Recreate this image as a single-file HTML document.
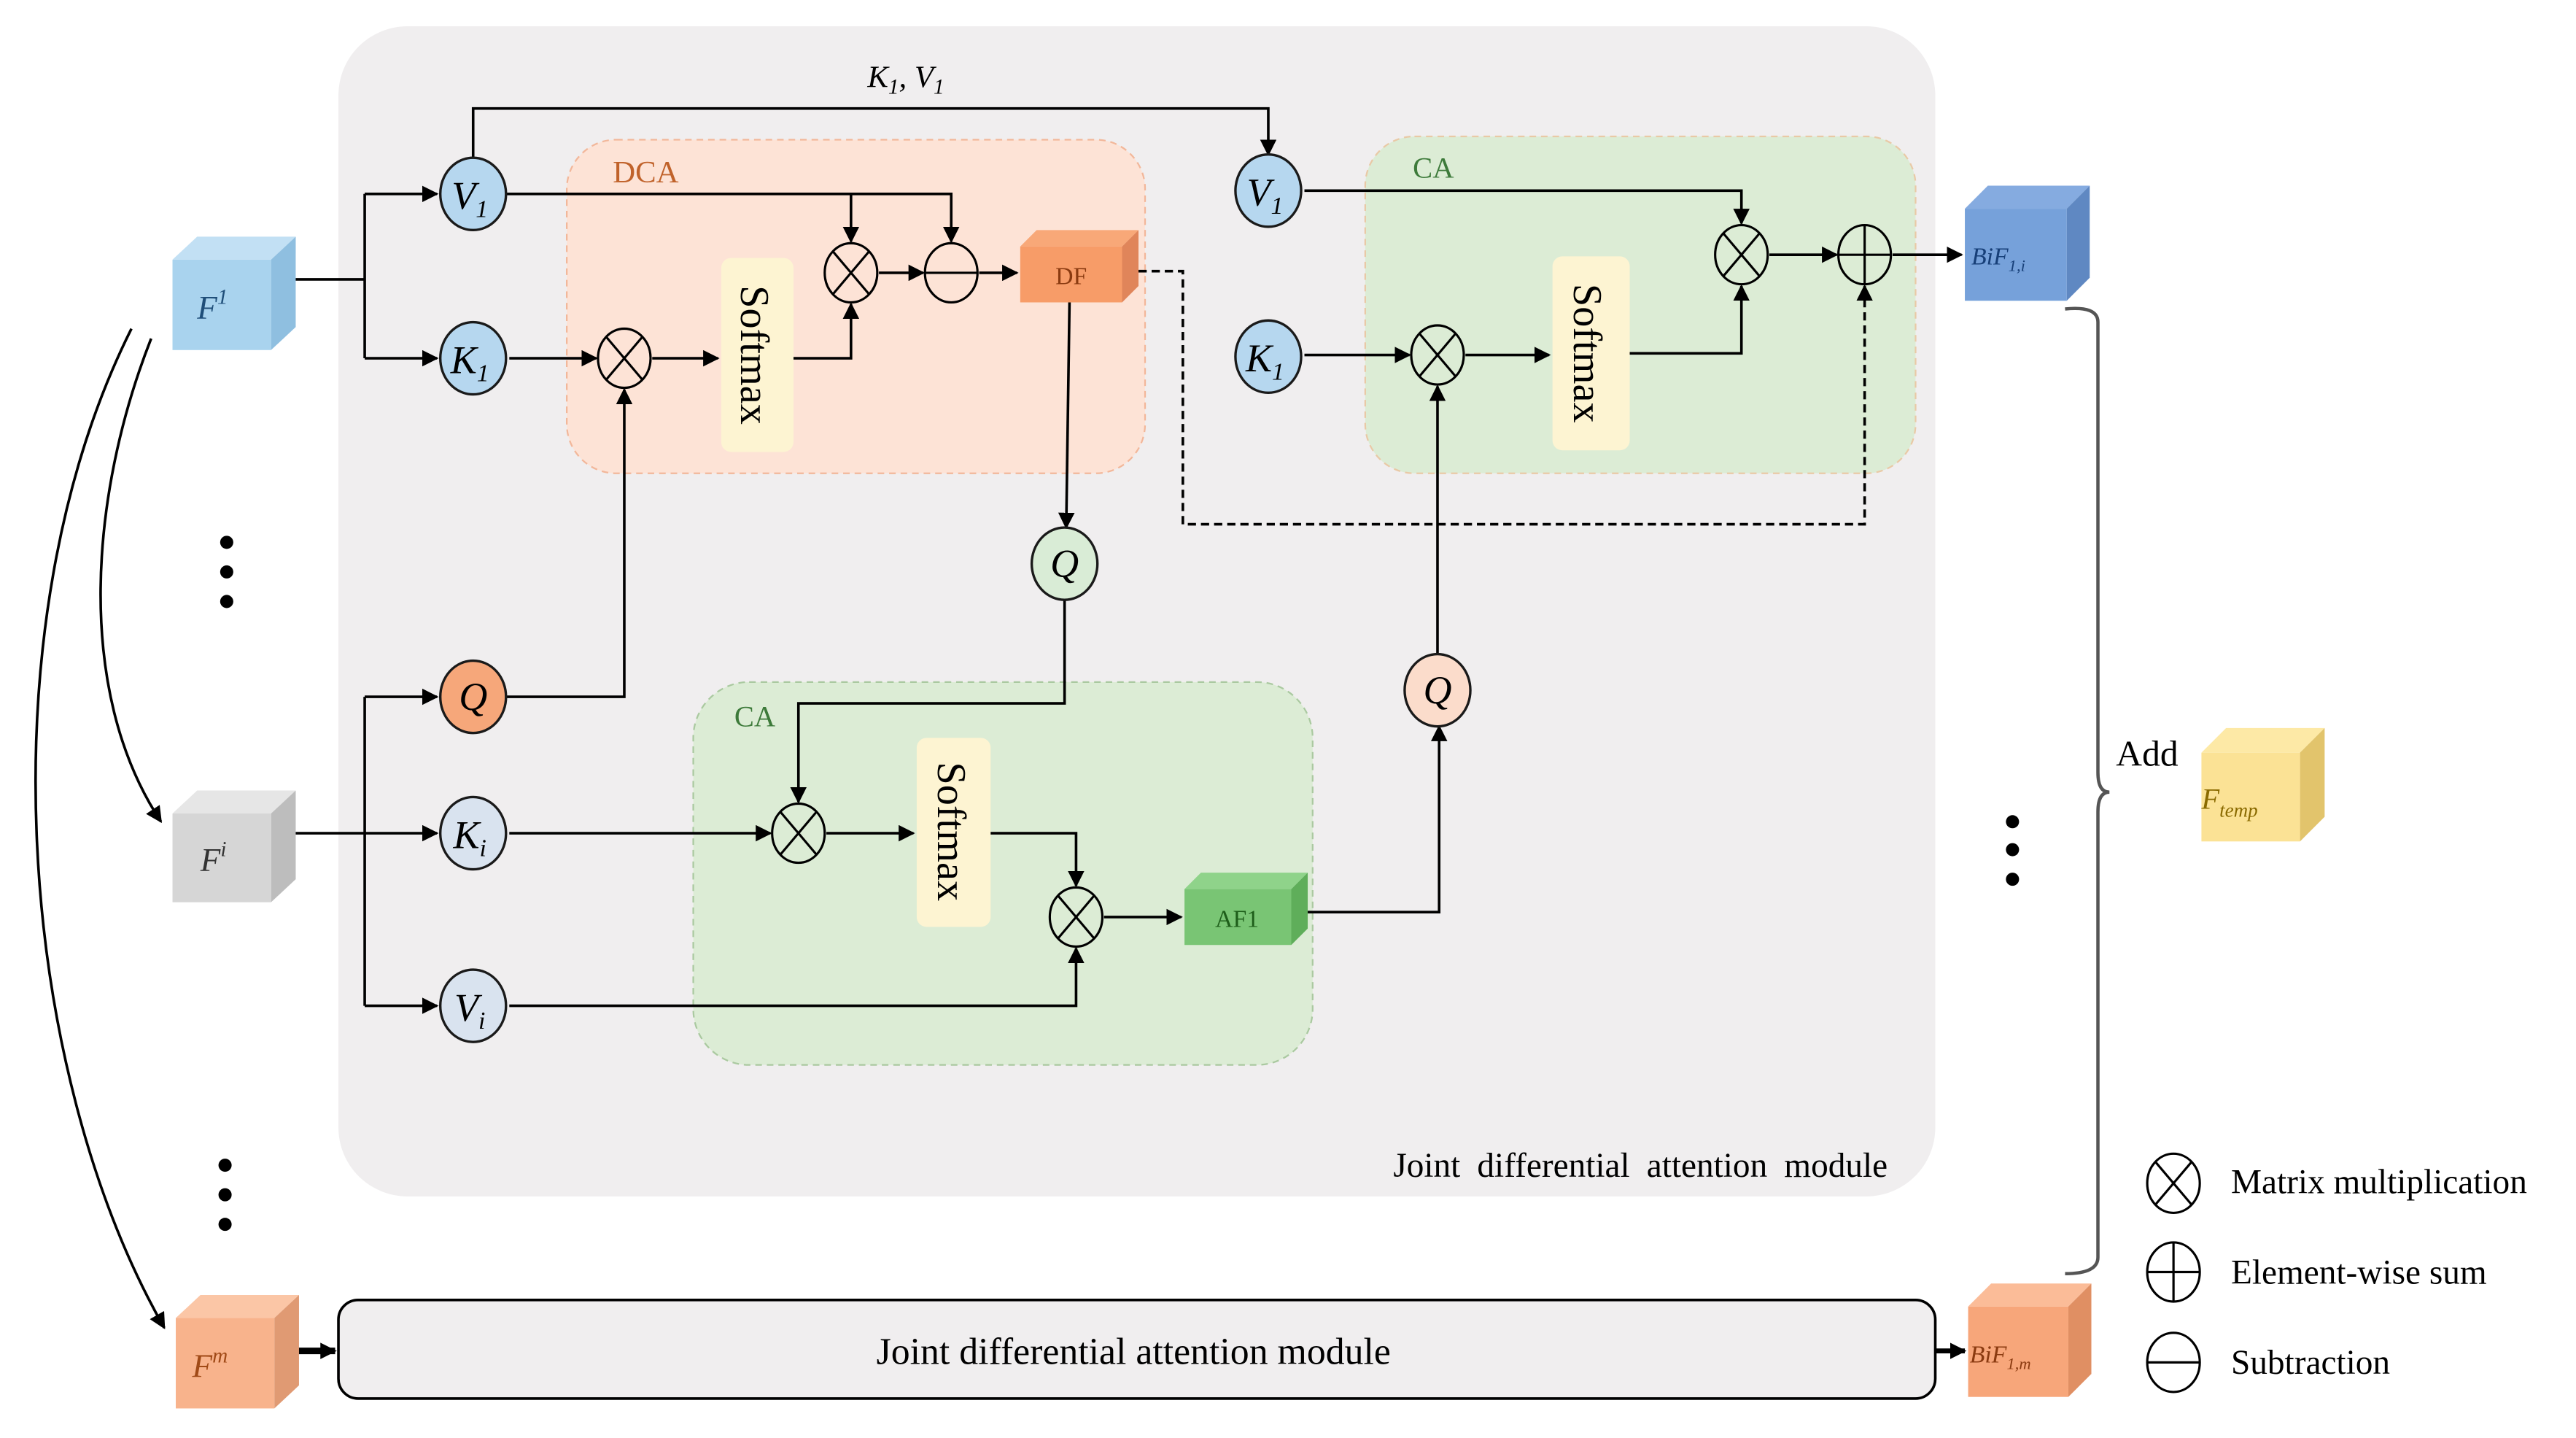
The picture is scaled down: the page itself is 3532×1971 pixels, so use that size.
<!DOCTYPE html>
<html><head><meta charset="utf-8"><style>html,body{margin:0;padding:0;background:#fff}svg{display:block}</style></head>
<body>
<svg width="3532" height="1971" viewBox="0 0 1568 875" preserveAspectRatio="none" xmlns="http://www.w3.org/2000/svg" font-family="'Liberation Serif', serif">
<defs>
<marker id="a" markerWidth="10" markerHeight="10" refX="9" refY="5" orient="auto" markerUnits="userSpaceOnUse"><path d="M0,0 L10,5 L0,10 z" fill="#000"/></marker>
<g id="mx"><ellipse cx="0" cy="0" rx="16" ry="18"/><path d="M-11,-13 L11,13 M11,-13 L-11,13"/></g>
</defs>
<rect width="1568" height="875" fill="#fff"/>
<rect x="206" y="16" width="972" height="712" rx="42" fill="#f0eeef"/>
<rect x="345" y="85" width="352" height="203" rx="30" fill="#fde3d6" stroke="#f2b79a" stroke-dasharray="4,3"/>
<text x="373" y="111" font-size="19" fill="#c0622a">DCA</text>
<rect x="831" y="83" width="335" height="205" rx="30" fill="#dcecd5" stroke="#e9c9a6" stroke-dasharray="4,3"/>
<text x="860" y="108" font-size="18" fill="#3d7a3a">CA</text>
<rect x="422" y="415" width="377" height="233" rx="34" fill="#dcecd5" stroke="#aac9a0" stroke-dasharray="4,3"/>
<text x="447" y="442" font-size="18" fill="#3d7a3a">CA</text>
<g fill="#fdf4d2"><rect x="439" y="157" width="44" height="118" rx="6"/><rect x="945" y="156" width="47" height="118" rx="6"/><rect x="558" y="449" width="45" height="115" rx="6"/></g>
<g font-size="25" fill="#000">
<text transform="translate(451,216) rotate(90)" text-anchor="middle">Softmax</text>
<text transform="translate(958,215) rotate(90)" text-anchor="middle">Softmax</text>
<text transform="translate(571,506) rotate(90)" text-anchor="middle">Softmax</text>
</g>
<g>
<polygon points="105,158 120,144 180,144 165,158" fill="#c2e0f4"/><polygon points="165,158 180,144 180,199 165,213" fill="#8fbfe0"/><rect x="105" y="158" width="60" height="55" fill="#a9d3ee"/>
<text x="120" y="194" font-size="20" font-style="italic" fill="#1f4e79">F<tspan font-size="13" dy="-9">1</tspan></text>
<polygon points="105,495 120,481 180,481 165,495" fill="#e6e6e6"/><polygon points="165,495 180,481 180,535 165,549" fill="#bdbdbd"/><rect x="105" y="495" width="60" height="54" fill="#d6d6d6"/>
<text x="122" y="530" font-size="20" font-style="italic" fill="#333">F<tspan font-size="13" dy="-9">i</tspan></text>
<polygon points="107,802 122,788 182,788 167,802" fill="#fbc6a6"/><polygon points="167,802 182,788 182,843 167,857" fill="#e09a73"/><rect x="107" y="802" width="60" height="55" fill="#f8b38c"/>
<text x="117" y="838" font-size="20" font-style="italic" fill="#a04a17">F<tspan font-size="13" dy="-9">m</tspan></text>
<polygon points="1196,127 1210,113 1272,113 1258,127" fill="#85abe0"/><polygon points="1258,127 1272,113 1272,169 1258,183" fill="#5f88c2"/><rect x="1196" y="127" width="62" height="56" fill="#76a1da"/>
<text x="1200" y="161" font-size="15" font-style="italic" fill="#173f78">BiF<tspan font-size="10" dy="4">1,i</tspan></text>
<polygon points="1198,795 1212,781 1273,781 1259,795" fill="#fbbc98"/><polygon points="1259,795 1273,781 1273,836 1259,850" fill="#e08f63"/><rect x="1198" y="795" width="61" height="55" fill="#f7a67a"/>
<text x="1199" y="829" font-size="15" font-style="italic" fill="#8a3a10">BiF<tspan font-size="10" dy="4">1,m</tspan></text>
<polygon points="1340,458 1355,443 1415,443 1400,458" fill="#fde9a6"/><polygon points="1400,458 1415,443 1415,497 1400,512" fill="#e2c46c"/><rect x="1340" y="458" width="60" height="54" fill="#fbe295"/>
<text x="1340" y="492" font-size="18" font-style="italic" fill="#8a6a00">F<tspan font-size="12" dy="5">temp</tspan></text>
<polygon points="621,150 631,140 693,140 683,150" fill="#f8a878"/><polygon points="683,150 693,140 693,174 683,184" fill="#e0855a"/><rect x="621" y="150" width="62" height="34" fill="#f79c68"/>
<text x="652" y="173" font-size="15" text-anchor="middle" fill="#8a3a10">DF</text>
<polygon points="721,541 731,531 796,531 786,541" fill="#8fd38a"/><polygon points="786,541 796,531 796,565 786,575" fill="#5fae5a"/><rect x="721" y="541" width="65" height="34" fill="#79c574"/>
<text x="753" y="564" font-size="15" text-anchor="middle" fill="#1e5e1a">AF1</text>
</g>
<g stroke="#000" stroke-width="1.6" fill="none">
<path d="M180,170 H222"/><path d="M222,118 V218"/><path d="M222,118 H266" marker-end="url(#a)"/><path d="M222,218 H266" marker-end="url(#a)"/>
<path d="M180,507 H222"/><path d="M222,424 V612"/><path d="M222,424 H266" marker-end="url(#a)"/><path d="M222,507 H266" marker-end="url(#a)"/><path d="M222,612 H266" marker-end="url(#a)"/>
<path d="M288,96 V66 H772 V94" marker-end="url(#a)"/>
<path d="M308,118 H579 V147" marker-end="url(#a)"/><path d="M518,118 V147" marker-end="url(#a)"/>
<path d="M310,218 H363" marker-end="url(#a)"/><path d="M397,218 H437" marker-end="url(#a)"/>
<path d="M483,218 H518 V185" marker-end="url(#a)"/>
<path d="M535,166 H562" marker-end="url(#a)"/><path d="M596,166 H619" marker-end="url(#a)"/>
<path d="M308,424 H380 V237" marker-end="url(#a)"/>
<path d="M651,184 L649,321" marker-end="url(#a)"/>
<path d="M648,365 V428 H486 V488" marker-end="url(#a)"/>
<path d="M310,507 H469" marker-end="url(#a)"/><path d="M503,507 H556" marker-end="url(#a)"/>
<path d="M603,507 H655 V539" marker-end="url(#a)"/>
<path d="M310,612 H655 V577" marker-end="url(#a)"/>
<path d="M672,558 H719" marker-end="url(#a)"/>
<path d="M796,555 H876 V442" marker-end="url(#a)"/>
<path d="M875,398 V235" marker-end="url(#a)"/>
<path d="M794,216 H858" marker-end="url(#a)"/><path d="M892,216 H943" marker-end="url(#a)"/>
<path d="M992,215 H1060 V174" marker-end="url(#a)"/>
<path d="M794,116 H1060 V136" marker-end="url(#a)"/>
<path d="M1077,155 H1118" marker-end="url(#a)"/><path d="M1152,155 H1194" marker-end="url(#a)"/>
<path d="M693,165 H720 V319 H1135 V174" stroke-dasharray="5,3" marker-end="url(#a)"/>
<path d="M182,822 H204" stroke-width="4" marker-end="url(#a)"/><path d="M1178,822 H1196" stroke-width="3" marker-end="url(#a)"/>
<path d="M92,206 C55,300 45,420 98,500" marker-end="url(#a)"/>
<path d="M80,200 C-10,380 10,650 100,808" marker-end="url(#a)"/>
<path d="M1257,188 Q1277,186 1277,196 V470 Q1277,482 1284,482 Q1277,482 1277,494 V765 Q1277,775 1257,775" stroke="#555" stroke-width="2"/>
</g>
<g stroke="#1a1a1a" stroke-width="1.5">
<ellipse cx="288" cy="118" rx="20" ry="22" fill="#b6d7ef"/><ellipse cx="288" cy="218" rx="20" ry="22" fill="#b6d7ef"/>
<ellipse cx="288" cy="424" rx="20" ry="22" fill="#f6a77a"/><ellipse cx="288" cy="507" rx="20" ry="22" fill="#d9e3ef"/><ellipse cx="288" cy="612" rx="20" ry="22" fill="#d9e3ef"/>
<ellipse cx="772" cy="116" rx="20" ry="22" fill="#b6d7ef"/><ellipse cx="772" cy="217" rx="20" ry="22" fill="#b6d7ef"/>
<ellipse cx="648" cy="343" rx="20" ry="22" fill="#d9ecd6"/><ellipse cx="875" cy="420" rx="20" ry="22" fill="#fbdccb"/>
</g>
<g font-size="24" font-style="italic" text-anchor="middle">
<text x="286" y="127">V<tspan font-size="15" dy="5">1</tspan></text><text x="286" y="227">K<tspan font-size="15" dy="5">1</tspan></text>
<text x="288" y="432">Q</text><text x="286" y="516">K<tspan font-size="15" dy="5">i</tspan></text><text x="286" y="621">V<tspan font-size="15" dy="5">i</tspan></text>
<text x="770" y="125">V<tspan font-size="15" dy="5">1</tspan></text><text x="770" y="226">K<tspan font-size="15" dy="5">1</tspan></text>
<text x="648" y="351">Q</text><text x="875" y="428">Q</text>
</g>
<text x="528" y="53" font-size="19" font-style="italic">K<tspan font-size="13" dy="4">1</tspan><tspan dy="-4">, V</tspan><tspan font-size="13" dy="4">1</tspan></text>
<g stroke="#000" stroke-width="1.4" fill="none">
<use href="#mx" x="380" y="218"/><use href="#mx" x="518" y="166"/><use href="#mx" x="875" y="216"/><use href="#mx" x="1060" y="155"/><use href="#mx" x="486" y="507"/><use href="#mx" x="655" y="558"/><use href="#mx" x="1323" y="720"/>
<ellipse cx="579" cy="166" rx="16" ry="18"/><path d="M563,166 H595"/>
<ellipse cx="1135" cy="155" rx="16" ry="18"/><path d="M1119,155 H1151 M1135,137 V173"/>
<ellipse cx="1323" cy="774" rx="16" ry="18"/><path d="M1307,774 H1339 M1323,756 V792"/>
<ellipse cx="1323" cy="829" rx="16" ry="18"/><path d="M1307,829 H1339"/>
</g>
<rect x="206" y="791" width="972" height="60" rx="12" fill="#f0eeef" stroke="#000" stroke-width="1.6"/>
<text x="690" y="830" font-size="23" text-anchor="middle">Joint differential attention module</text>
<text x="1149" y="716" font-size="21" text-anchor="end" word-spacing="5">Joint differential attention module</text>
<text x="1288" y="466" font-size="22">Add</text>
<g font-size="21"><text x="1358" y="726">Matrix multiplication</text><text x="1358" y="781">Element-wise sum</text><text x="1358" y="836">Subtraction</text></g>
<g fill="#000"><circle cx="138" cy="330" r="4"/><circle cx="138" cy="348" r="4"/><circle cx="138" cy="366" r="4"/>
<circle cx="1225" cy="500" r="4"/><circle cx="1225" cy="517" r="4"/><circle cx="1225" cy="535" r="4"/>
<circle cx="137" cy="709" r="4"/><circle cx="137" cy="727" r="4"/><circle cx="137" cy="745" r="4"/></g>
</svg>
</body></html>
